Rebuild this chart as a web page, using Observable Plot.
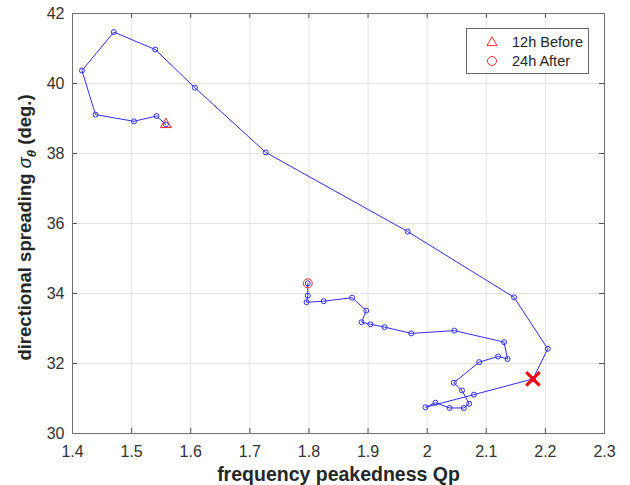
<!DOCTYPE html>
<html><head><meta charset="utf-8">
<script src="https://cdn.jsdelivr.net/npm/d3@7"></script>
<script src="https://cdn.jsdelivr.net/npm/@observablehq/plot@0.6"></script>
<style>
body{margin:0;background:#fff;}
#chart{position:relative;width:630px;height:485px;overflow:hidden;}
#legend{position:absolute;left:466px;top:28px;width:121px;height:44px;border:1px solid #666;background:#fff;
 font-family:"Liberation Sans",Arial,sans-serif;font-size:14.5px;color:#262626;}
#legend .row{position:absolute;left:0;height:20px;line-height:20px;}
#legend svg{position:absolute;left:15px;top:2px;}
#legend span{position:absolute;left:45px;white-space:nowrap;}
</style></head><body><div id="chart"></div>
<script>
// frequency peakedness Qp (x) and directional spreading sigma_theta (y), hourly from 12h before to 24h after
const qp = [1.558,1.542,1.504,1.439,1.416,1.470,1.540,1.607,1.727,1.967,2.147,2.204,2.179,2.079,1.997,2.014,2.038,2.062,2.071,2.059,2.045,2.088,2.120,2.136,2.130,2.046,1.973,1.928,1.904,1.889,1.897,1.873,1.825,1.796,1.798,1.798];
const sigma = [38.83,39.07,38.92,39.11,40.37,41.47,40.97,39.88,38.03,35.77,33.89,32.42,31.56,31.11,30.75,30.88,30.73,30.73,30.85,31.23,31.45,32.04,32.20,32.13,32.61,32.94,32.86,33.04,33.12,33.18,33.51,33.88,33.78,33.75,33.94,34.29];
const beforeIndex = 0;
const eventIndex = 12;
const afterIndex = 35;
const xTicks = [1.4,1.5,1.6,1.7,1.8,1.9,2.0,2.1,2.2,2.3];
const xTickLabels = ["1.4","1.5","1.6","1.7","1.8","1.9","2","2.1","2.2","2.3"];
const yTicks = [30,32,34,36,38,40,42];
const yTickLabels = ["30","32","34","36","38","40","42"];
const legendLabels = ["12h Before","24h After"];
const xLabel = "frequency peakedness Qp";
const yLabel = "directional spreading σθ (deg.)";

const data = qp.map((x,i)=>({x, y: sigma[i]}));
const W = 630, H = 485, mL = 72, mR = 26, mT = 13, mB = 52;
const fw = W - mL - mR, fh = H - mT - mB, tk = 5;
const blue = "#2f2fff";

const svg = Plot.plot({
  width: W, height: H,
  marginLeft: mL, marginRight: mR, marginTop: mT, marginBottom: mB,
  style: {fontFamily: "'Liberation Sans', Arial, sans-serif", fontSize: "16px", color: "#333", background: "#fff"},
  x: {domain: [1.4, 2.3]},
  y: {domain: [30, 42]},
  marks: [
    Plot.gridX(xTicks, {stroke: "#e3e3e3", strokeOpacity: 1}),
    Plot.gridY(yTicks, {stroke: "#e3e3e3", strokeOpacity: 1}),
    Plot.tickX(xTicks, {x: d=>d, insetTop: fh - tk, stroke: "#555"}),
    Plot.tickX(xTicks, {x: d=>d, insetBottom: fh - tk, stroke: "#555"}),
    Plot.tickY(yTicks, {y: d=>d, insetRight: fw - tk, stroke: "#555"}),
    Plot.tickY(yTicks, {y: d=>d, insetLeft: fw - tk, stroke: "#555"}),
    Plot.frame({stroke: "#707070"}),
    Plot.axisX(xTicks, {tickSize: 0, tickPadding: 12, tickFormat: (d,i)=>xTickLabels[i], label: null, fill: "#333"}),
    Plot.axisY(yTicks, {tickSize: 0, tickPadding: 8, tickFormat: (d,i)=>yTickLabels[i], label: null, fill: "#333"}),
    Plot.text([xLabel], {frameAnchor: "bottom", lineAnchor: "bottom", dy: 47, fontSize: 19.5, fontWeight: "bold", fill: "#262626", text: d=>d}),
    Plot.text([yLabel], {frameAnchor: "left", textAnchor: "middle", lineAnchor: "bottom", dx: -42, dy: 4, rotate: -90, fontSize: 18.5, fontWeight: "bold", fill: "#262626", text: d=>d, className: "ylab"}),
    Plot.line(data, {x: "x", y: "y", stroke: blue, strokeWidth: 1}),
    Plot.dot(data, {x: "x", y: "y", r: 2.5, stroke: blue, strokeWidth: 1, fill: "none"}),
    Plot.dot([data[beforeIndex]], {x: "x", y: "y", symbol: "triangle", r: 4, stroke: "#ff2a2a", strokeWidth: 1, fill: "none"}),
    Plot.dot([data[afterIndex]], {x: "x", y: "y", r: 4.5, stroke: "#ff2a2a", strokeWidth: 1, fill: "none"}),
    Plot.dot([data[eventIndex]], {x: "x", y: "y", symbol: "times", r: 6.2, stroke: "#ff0000", strokeWidth: 3})
  ]
});
document.getElementById("chart").appendChild(svg);

// y label with italic sigma and subscript theta
d3.select(svg).selectAll("g.ylab text").each(function(){
  const t = d3.select(this);
  t.text(null);
  t.append("tspan").text("directional spreading ");
  t.append("tspan").attr("font-style","italic").attr("font-weight","normal").text("σ");
  t.append("tspan").attr("font-style","italic").attr("font-size","13px").attr("dy","5").text("θ");
  t.append("tspan").attr("dy","-5").text(" (deg.)");
});

// legend
const lg = document.createElement("div");
lg.id = "legend";
lg.innerHTML = `
<div class="row" style="top:3px;width:121px"><svg width="20" height="16" viewBox="-10 -8 20 16"><path d="M0,-5.2L5,3.6L-5,3.6Z" fill="none" stroke="#ff2a2a" stroke-width="1"/></svg><span>${legendLabels[0]}</span></div>
<div class="row" style="top:22px;width:121px"><svg width="20" height="16" viewBox="-10 -8 20 16"><circle r="4.5" fill="none" stroke="#ff2a2a" stroke-width="1"/></svg><span>${legendLabels[1]}</span></div>`;
document.getElementById("chart").appendChild(lg);
</script></body></html>
